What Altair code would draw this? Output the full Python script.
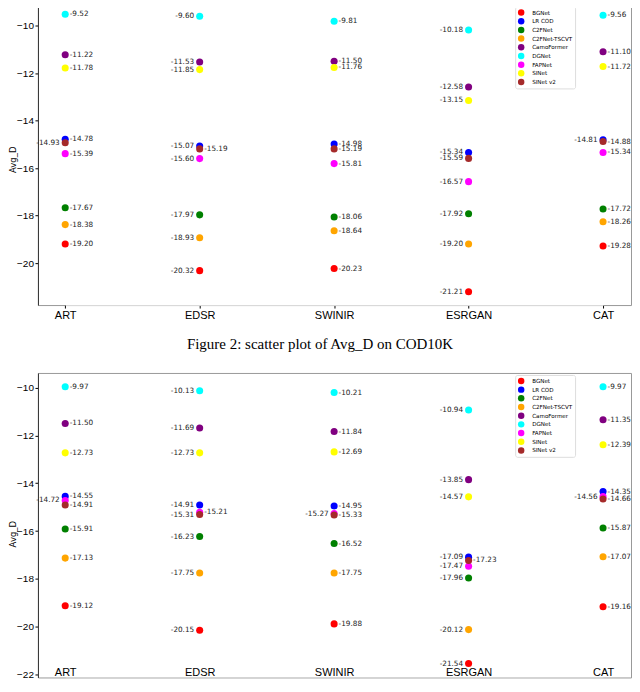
import altair as alt
import pandas as pd

methods = ["ART", "EDSR", "SWINIR", "ESRGAN", "CAT"]
models = ["BGNet", "LR COD", "C2FNet", "C2FNet-TSCVT", "CamoFormer",
          "DGNet", "FAPNet", "SINet", "SINet v2"]
colors = ["red", "blue", "green", "orange", "purple",
          "cyan", "magenta", "yellow", "brown"]

# Avg_D per model, values in the order of `methods`
top_values = {
    "BGNet": [-19.20, -20.32, -20.23, -21.21, -19.28],
    "LR COD": [-14.78, -15.07, -14.98, -15.34, -14.81],
    "C2FNet": [-17.67, -17.97, -18.06, -17.92, -17.72],
    "C2FNet-TSCVT": [-18.38, -18.93, -18.64, -19.20, -18.26],
    "CamoFormer": [-11.22, -11.53, -11.50, -12.58, -11.10],
    "DGNet": [-9.52, -9.60, -9.81, -10.18, -9.56],
    "FAPNet": [-15.39, -15.60, -15.81, -16.57, -15.34],
    "SINet": [-11.78, -11.85, -11.76, -13.15, -11.72],
    "SINet v2": [-14.93, -15.19, -15.19, -15.59, -14.88],
}
bottom_values = {
    "BGNet": [-19.12, -20.15, -19.88, -21.54, -19.16],
    "LR COD": [-14.55, -14.91, -14.95, -17.09, -14.35],
    "C2FNet": [-15.91, -16.23, -16.52, -17.96, -15.87],
    "C2FNet-TSCVT": [-17.13, -17.75, -17.75, -20.12, -17.07],
    "CamoFormer": [-11.50, -11.69, -11.84, -13.85, -11.35],
    "DGNet": [-9.97, -10.13, -10.21, -10.94, -9.97],
    "FAPNet": [-14.72, -15.21, -15.27, -17.47, -14.56],
    "SINet": [-12.73, -12.73, -12.69, -14.57, -12.39],
    "SINet v2": [-14.91, -15.31, -15.33, -17.23, -14.66],
}

# which side of the dot the value label sits on, per method column,
# plus the few points whose label is on the other side
label_side = ["R", "L", "R", "L", "R"]
top_flipped = [("SINet v2", "ART"), ("SINet v2", "EDSR"), ("LR COD", "CAT")]
bottom_flipped = [("FAPNet", "ART"), ("FAPNet", "EDSR"), ("FAPNet", "SWINIR"),
                  ("SINet v2", "ESRGAN"), ("FAPNet", "CAT")]


def make_frame(values, flipped):
    rows = []
    for model in models:
        for method, v, side in zip(methods, values[model], label_side):
            if (model, method) in flipped:
                side = "L" if side == "R" else "R"
            rows.append({"method": method, "model": model, "Avg_D": v,
                         "label": f"{v:.2f}", "side": side})
    return pd.DataFrame(rows)


def scatter(df, domain, ticks, x_title, y_title_pos, x_label_pad, x_tick, legend_y):
    x_axis = dict(labelAngle=0, labelFont="Liberation Sans", labelFontSize=11,
                  labelColor="black", labelPadding=x_label_pad, labelBaseline="top",
                  tickSize=x_tick, tickColor="black", domainColor="#dddddd")
    if x_title:
        x_axis.update(title=x_title, titleFont="Liberation Serif", titleFontSize=15,
                      titleFontWeight="normal", titleColor="black",
                      titleX=282, titleY=38.5, titleBaseline="middle")
    else:
        x_axis.update(title=None)
    # the page is cut just right of the last column, as in the paper figure
    x = alt.X("method:N", sort=methods,
              scale=alt.Scale(type="point", range=[27.3, 566], padding=0),
              axis=alt.Axis(**x_axis))
    y = alt.Y("Avg_D:Q",
              scale=alt.Scale(domain=domain, nice=False, zero=False),
              axis=alt.Axis(values=ticks, title="Avg_D", grid=False,
                            labelFont="Liberation Sans", labelFontSize=10,
                            labelColor="black", labelPadding=1.5,
                            tickSize=3, tickColor="black", domainColor="#333333",
                            titleFont="DejaVu Sans", titleFontSize=8.5,
                            titleFontWeight="normal", titleColor="black",
                            titleAngle=270, titleX=-25.5, titleY=y_title_pos,
                            titleBaseline="middle"))
    color = alt.Color("model:N", sort=models,
                      scale=alt.Scale(domain=models, range=colors),
                      legend=alt.Legend(title=None, orient="none", legendX=478, legendY=legend_y,
                                        fillColor="white", strokeColor="#dddddd",
                                        padding=2.5, cornerRadius=2, symbolType="circle",
                                        symbolSize=42, symbolStrokeWidth=0,
                                        labelFont="DejaVu Sans", labelFontSize=5.6,
                                        labelOffset=7.5, rowPadding=0.7))

    base = alt.Chart(df)
    points = base.mark_circle(size=50, opacity=1).encode(x=x, y=y, color=color)
    right = base.transform_filter("datum.side == 'R'").mark_text(
        align="left", baseline="middle", dx=4.5, font="DejaVu Sans",
        fontSize=7.3, color="#222222"
    ).encode(x=x, y=y, text="label:N")
    left = base.transform_filter("datum.side == 'L'").mark_text(
        align="right", baseline="middle", dx=-5.5, font="DejaVu Sans",
        fontSize=7.3, color="#222222"
    ).encode(x=x, y=y, text="label:N")
    return alt.layer(points, right, left).properties(width=594, height=305)


top_chart = scatter(make_frame(top_values, top_flipped),
                    [-21.77, -8.94], [-20, -18, -16, -14, -12, -10],
                    "Figure 2: scatter plot of Avg_D on COD10K", 159, 1.5, 3, 6)
# the page ends right under the lower plot, so its method names sit just inside it
bottom_chart = scatter(make_frame(bottom_values, bottom_flipped),
                       [-22.12, -9.39], [-22, -20, -18, -16, -14, -12, -10],
                       None, 161, -11, 0, 2)

chart = (
    alt.vconcat(top_chart, bottom_chart, spacing=20)
    .resolve_scale(x="independent", y="independent", color="independent")
    .resolve_legend(color="independent")
    .configure(padding={"left": 0, "top": -9, "right": 0, "bottom": 0})
    .configure_view(stroke="#999999")
)

chart.save("out.html", embed_options={"renderer": "svg", "actions": False})
